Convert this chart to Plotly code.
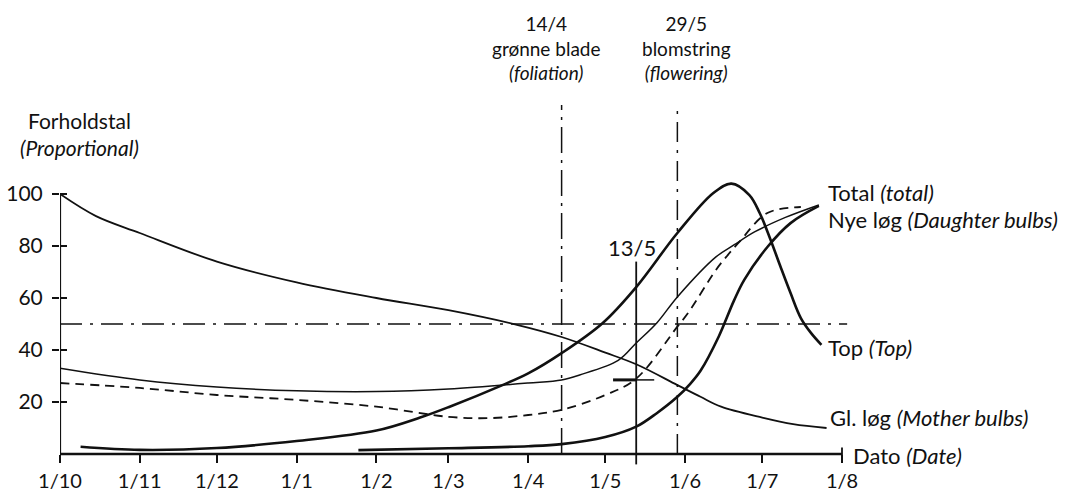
import plotly.graph_objects as go
import pandas as pd

# ---------------- data ----------------
month_ticks = ["1960-10-01", "1960-11-01", "1960-12-01", "1961-01-01", "1961-02-01",
               "1961-03-01", "1961-04-01", "1961-05-01", "1961-06-01", "1961-07-01", "1961-08-01"]
month_labels = ["1/10", "1/11", "1/12", "1/1", "1/2", "1/3", "1/4", "1/5", "1/6", "1/7", "1/8"]
y_ticks = [20, 40, 60, 80, 100]

mother_dates = ["1960-10-01", "1960-10-15", "1960-11-01", "1960-12-01", "1961-01-01", "1961-02-01",
                "1961-03-01", "1961-03-28", "1961-04-14", "1961-05-01", "1961-05-13", "1961-05-29",
                "1961-06-07", "1961-06-15", "1961-07-01", "1961-07-13", "1961-07-26"]
mother_vals = [100, 91.5, 85, 74, 66, 60, 55.3, 49.6, 45, 39, 34.5, 26.5, 22, 18.2, 14, 11.5, 10]

top_dates = ["1960-10-09", "1960-11-01", "1960-12-01", "1961-01-01", "1961-02-01", "1961-02-18",
             "1961-03-01", "1961-03-22", "1961-04-01", "1961-04-14", "1961-04-30", "1961-05-13",
             "1961-05-29", "1961-06-12", "1961-06-19", "1961-06-26", "1961-06-30", "1961-07-04",
             "1961-07-08", "1961-07-12", "1961-07-16", "1961-07-20", "1961-07-24"]
top_vals = [2.8, 1.6, 2.3, 5, 9, 14, 18, 26.5, 31, 38.8, 50.4, 64.2, 85, 100.4, 104, 99.6, 92.7,
            83, 72.3, 61.9, 52.3, 46.5, 42]

total_dates = ["1960-10-01", "1960-11-01", "1960-12-01", "1961-01-01", "1961-02-01", "1961-03-01",
               "1961-04-01", "1961-04-14", "1961-04-21", "1961-05-06", "1961-05-13", "1961-05-21",
               "1961-05-29", "1961-06-13", "1961-06-20", "1961-06-28", "1961-07-10", "1961-07-23"]
total_vals = [33, 28.5, 25.8, 24.3, 24, 25, 27.3, 28.5, 30.4, 36, 42.7, 50.4, 60.4, 75.8, 80.4,
              85.4, 91, 95.8]

daughter_dates = ["1961-01-25", "1961-03-01", "1961-04-01", "1961-04-14", "1961-05-01", "1961-05-13",
                  "1961-05-21", "1961-05-29", "1961-06-03", "1961-06-07", "1961-06-14", "1961-06-20",
                  "1961-06-24", "1961-07-03", "1961-07-12", "1961-07-23"]
daughter_vals = [1.5, 2.2, 3, 3.8, 6.5, 10.5, 15.7, 22, 27, 32, 45, 59, 67, 79.6, 88.8, 95.4]

dashed_dates = ["1960-10-01", "1960-11-01", "1960-12-01", "1961-01-01", "1961-02-01", "1961-03-01",
                "1961-03-17", "1961-04-01", "1961-04-14", "1961-05-01", "1961-05-13", "1961-05-29",
                "1961-06-02", "1961-06-13", "1961-06-17", "1961-06-22", "1961-07-03", "1961-07-16"]
dashed_vals = [27.3, 25.4, 22.7, 20.8, 18.2, 14.3, 13.8, 15, 17, 22.7, 29, 49, 54, 70.8, 75.8,
               81.5, 92.7, 95]

foliation_date = "1961-04-14"
flowering_date = "1961-05-29"
mid_date = "1961-05-13"
ref_level = 50

# ---------------- geometry helpers (layout only) ----------------
W, H = 1074, 491
L = 60            # pixel of 1/10 (left margin)
start = pd.Timestamp("1960-10-01")
px_per_day = (842 - 60) / 304.0
x_end = start + pd.Timedelta(days=(W - L) / px_per_day)
y0_px = 454
px_per_unit = 2.6
y_min = -(H - y0_px) / px_per_unit
y_max = y0_px / px_per_unit

def pxx(p):
    return (p - L) / (W - L)

def pxy(p):
    return (H - p) / H

FONT = "Lato"
FS = 22
BLACK = "#111111"

fig = go.Figure()

def add_line(d, v, width, dash="solid"):
    fig.add_trace(go.Scatter(x=pd.to_datetime(d), y=v, mode="lines",
                             line=dict(color=BLACK, width=width, dash=dash, shape="spline",
                                       smoothing=1.0),
                             showlegend=False, hoverinfo="skip"))

add_line(mother_dates, mother_vals, 1.8)
add_line(total_dates, total_vals, 1.5)
add_line(dashed_dates, dashed_vals, 1.8, dash="9px,6px")
add_line(top_dates, top_vals, 2.6)
add_line(daughter_dates, daughter_vals, 2.6)

# invisible trace on overlay axis so its ticks render
fig.add_trace(go.Scatter(x=[start], y=[0], yaxis="y2", mode="markers",
                         marker=dict(opacity=0), showlegend=False, hoverinfo="skip"))

shapes = []
shapes.append(dict(type="line", xref="x", yref="y", x0=start, x1="1961-08-01", y0=0, y1=0,
                   line=dict(color=BLACK, width=2.5)))
shapes.append(dict(type="line", xref="x", yref="y", x0=start, x1=start, y0=0, y1=100,
                   line=dict(color=BLACK, width=2.2)))
shapes.append(dict(type="line", xref="x", yref="y", x0="1961-08-01", x1="1961-08-01", y0=-3, y1=2.5,
                   line=dict(color=BLACK, width=1.8)))
shapes.append(dict(type="line", xref="x", yref="y", x0=start, x1="1961-08-03",
                   y0=ref_level, y1=ref_level,
                   line=dict(color=BLACK, width=1.4, dash="22px,8px,3px,8px")))
top_v = (y0_px - 105) / px_per_unit
shapes.append(dict(type="line", xref="x", yref="y", x0=foliation_date, x1=foliation_date,
                   y0=0, y1=top_v, line=dict(color=BLACK, width=1.5, dash="26px,7px,3px,7px")))
shapes.append(dict(type="line", xref="x", yref="y", x0=flowering_date, x1=flowering_date,
                   y0=0, y1=top_v, line=dict(color=BLACK, width=1.5, dash="20px,8px,3px,8px")))
shapes.append(dict(type="line", xref="x", yref="y", x0=mid_date, x1=mid_date,
                   y0=-4, y1=74, line=dict(color=BLACK, width=1.8)))
shapes.append(dict(type="line", xref="x", yref="y", x0="1961-05-04", x1=mid_date,
                   y0=28.5, y1=28.5, line=dict(color=BLACK, width=3)))
shapes.append(dict(type="line", xref="x", yref="y", x0=mid_date, x1="1961-05-20",
                   y0=28.5, y1=28.5, line=dict(color=BLACK, width=1.5)))

annotations = []

def ann(text, px, py, anchor="center", size=FS):
    annotations.append(dict(text=text, xref="paper", yref="paper", x=pxx(px), y=pxy(py),
                            xanchor=anchor, yanchor="middle", showarrow=False,
                            font=dict(family=FONT, size=size, color=BLACK)))

ann("Forholdstal<br><i>(Proportional)</i>", 79, 134, size=21)
ann("14/4<br>grønne blade<br><i>(foliation)</i>", 546, 48, size=19)
ann("29/5<br>blomstring<br><i>(flowering)</i>", 686, 48, size=19)
ann("13/5", 632, 247)
ann("Total <i>(total)</i>", 826, 192, "left")
ann("Nye løg <i>(Daughter bulbs)</i>", 826, 219, "left")
ann("Top <i>(Top)</i>", 826, 347, "left")
ann("Gl. løg <i>(Mother bulbs)</i>", 828, 417, "left")
ann("Dato <i>(Date)</i>", 851, 455, "left")

fig.update_layout(
    width=W, height=H,
    margin=dict(l=L, r=0, t=0, b=0, autoexpand=False),
    paper_bgcolor="white", plot_bgcolor="white",
    showlegend=False,
    font=dict(family=FONT, size=FS, color=BLACK),
    shapes=shapes, annotations=annotations,
    xaxis=dict(range=[start, x_end], anchor="free", position=pxy(y0_px), automargin=False,
               tickvals=pd.to_datetime(month_ticks), ticktext=month_labels,
               ticks="outside", ticklen=8, tickwidth=1.8, tickcolor=BLACK,
               showgrid=False, zeroline=False, showline=False,
               tickfont=dict(family=FONT, size=20, color=BLACK), ticklabelstandoff=1),
    yaxis=dict(range=[y_min, y_max], tickvals=y_ticks, ticks="outside", ticklen=7,
               automargin=False,
               tickwidth=1.8, tickcolor=BLACK, showgrid=False, zeroline=False, showline=False,
               tickfont=dict(family=FONT, size=FS - 1, color=BLACK), ticklabelstandoff=5),
    yaxis2=dict(range=[y_min, y_max], overlaying="y", anchor="x", side="left", automargin=False,
                tickvals=y_ticks, ticks="inside", ticklen=7, tickwidth=1.8, tickcolor=BLACK,
                showticklabels=False, showgrid=False, zeroline=False, showline=False),
)

fig.write_html("out.html")
